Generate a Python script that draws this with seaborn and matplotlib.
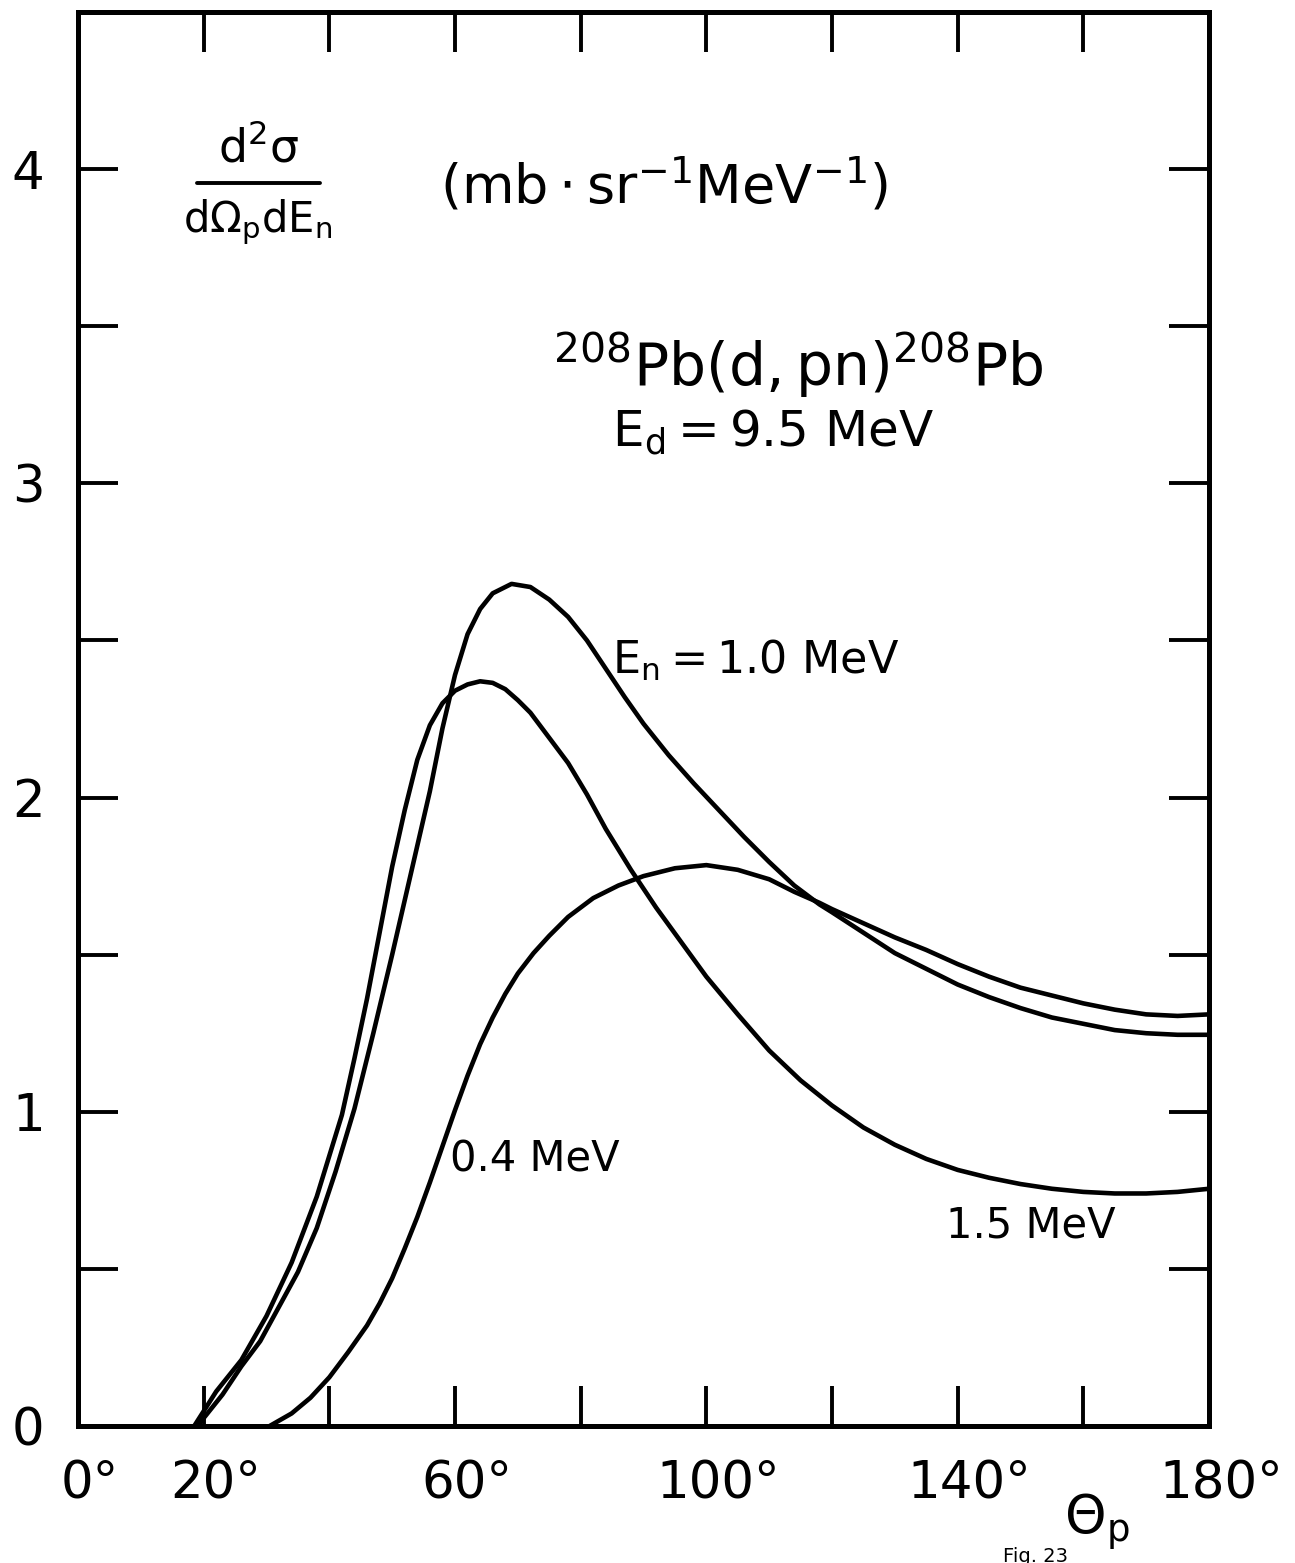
import numpy as np
import pandas as pd
import matplotlib
matplotlib.use("Agg")
import matplotlib.pyplot as plt
import matplotlib.transforms as mtransforms
from matplotlib.lines import Line2D
import seaborn as sns

# ---------------- data ----------------
theta_15 = [18.5, 22, 26, 30, 34, 38, 42, 44, 46, 48, 50, 52, 54, 56, 58, 60, 62, 64, 66, 68,
            70, 72, 75, 78, 81, 84, 88, 92, 96, 100, 105, 110, 115, 120, 125, 130, 135, 140,
            145, 150, 155, 160, 165, 170, 175, 180]
sigma_15 = [0.0, 0.11, 0.21, 0.35, 0.52, 0.73, 0.99, 1.17, 1.36, 1.57, 1.78, 1.96, 2.12, 2.23,
            2.30, 2.34, 2.36, 2.37, 2.365, 2.345, 2.31, 2.27, 2.19, 2.11, 2.01, 1.90, 1.77,
            1.65, 1.54, 1.43, 1.31, 1.195, 1.10, 1.02, 0.95, 0.895, 0.85, 0.815, 0.79, 0.77,
            0.755, 0.745, 0.74, 0.74, 0.745, 0.755]

theta_10 = [19, 23, 26, 29, 32, 35, 38, 41, 44, 47, 50, 53, 56, 58, 60, 62, 64, 66, 69, 72,
            75, 78, 81, 84, 87, 90, 94, 98, 102, 106, 110, 114, 118, 120, 125, 130, 135, 140,
            145, 150, 155, 160, 165, 170, 175, 180]
sigma_10 = [0.0, 0.10, 0.19, 0.27, 0.38, 0.49, 0.63, 0.81, 1.01, 1.25, 1.50, 1.76, 2.02, 2.22,
            2.39, 2.52, 2.60, 2.65, 2.68, 2.67, 2.63, 2.575, 2.50, 2.41, 2.32, 2.235, 2.135,
            2.045, 1.96, 1.875, 1.795, 1.72, 1.66, 1.635, 1.57, 1.505, 1.455, 1.405, 1.365,
            1.33, 1.30, 1.28, 1.26, 1.25, 1.245, 1.245]

theta_04 = [30.5, 34, 37, 40, 43, 46, 48, 50, 52, 54, 56, 58, 60, 62, 64, 66, 68, 70, 72.5,
            75, 78, 82, 86, 90, 95, 100, 105, 110, 114, 118, 120, 125, 130, 135, 140, 145,
            150, 155, 160, 165, 170, 175, 180]
sigma_04 = [0.0, 0.04, 0.09, 0.155, 0.235, 0.32, 0.39, 0.47, 0.565, 0.665, 0.775, 0.89, 1.005,
            1.115, 1.215, 1.30, 1.375, 1.44, 1.505, 1.56, 1.62, 1.68, 1.72, 1.75, 1.775,
            1.785, 1.77, 1.74, 1.70, 1.665, 1.645, 1.60, 1.555, 1.515, 1.47, 1.43, 1.395,
            1.37, 1.345, 1.325, 1.31, 1.305, 1.31]

curve_names = ["1.5 MeV", "1.0 MeV", "0.4 MeV"]

x_tick_values = [0, 20, 40, 60, 80, 100, 120, 140, 160, 180]
x_tick_labels = ["0°", "20°", "", "60°", "", "100°", "", "140°", "", "180°"]
y_tick_values = [0, 0.5, 1, 1.5, 2, 2.5, 3, 3.5, 4]
y_tick_labels = ["0", "", "1", "", "2", "", "3", "", "4"]

df = pd.concat([
    pd.DataFrame({"theta": theta_15, "sigma": sigma_15, "En": curve_names[0]}),
    pd.DataFrame({"theta": theta_10, "sigma": sigma_10, "En": curve_names[1]}),
    pd.DataFrame({"theta": theta_04, "sigma": sigma_04, "En": curve_names[2]}),
], ignore_index=True)

# ---------------- style ----------------
sns.set_theme(style="white")
plt.rcParams["font.family"] = ["DejaVu Sans"]
plt.rcParams["mathtext.fontset"] = "dejavusans"

W, H = 1295, 1563
fig = plt.figure(figsize=(W / 100, H / 100), dpi=100)
fig.patch.set_facecolor("white")
ax = fig.add_axes([78 / W, 1 - 1426 / H, (1209 - 78) / W, (1426 - 12) / H])
ax.set_facecolor("white")

sns.lineplot(data=df, x="theta", y="sigma", hue="En", units="En", estimator=None,
             palette={n: "black" for n in curve_names}, linewidth=3.3,
             legend=False, ax=ax)
for ln in ax.get_lines():
    ln.set_solid_joinstyle("round")
    ln.set_solid_capstyle("round")

ax.set_xlim(0, 180)
ax.set_ylim(0, 4.5)
ax.set_xlabel("")
ax.set_ylabel("")

for s in ax.spines.values():
    s.set_visible(True)
    s.set_color("black")
    s.set_linewidth(3.6)

ax.set_xticks(x_tick_values)
ax.set_xticklabels(x_tick_labels)
ax.set_yticks(y_tick_values)
ax.set_yticklabels(y_tick_labels)
ax.tick_params(axis="both", which="major", direction="in", length=29, width=2.8,
               color="black", labelsize=37, labelcolor="black", pad=24,
               top=True, right=True, bottom=True, left=True)
ax.tick_params(axis="y", pad=24)

offset = mtransforms.ScaledTranslation(12 / 100, 0, fig.dpi_scale_trans)
for lbl in ax.get_xticklabels():
    lbl.set_transform(lbl.get_transform() + offset)

# ---------------- annotations ----------------
def ftxt(px, py, s, size, ha="left", va="center"):
    fig.text(px / W, 1 - py / H, s, fontsize=size, ha=ha, va=va, color="black")

ftxt(258, 148, r"$\mathregular{d^2\sigma}$", 33, ha="center")
fig.add_artist(Line2D([197 / W, 320 / W], [1 - 183 / H, 1 - 183 / H],
                      color="black", linewidth=2.8))
ftxt(258, 222, r"$\mathregular{d\Omega_p dE_n}$", 30, ha="center")
ftxt(440, 186, r"$\mathregular{(mb\cdot sr^{-1} MeV^{-1})}$", 39)

ftxt(553, 365, r"$\mathregular{^{208}Pb(d,pn)^{208}Pb}$", 42)
ftxt(612, 432, r"$\mathregular{E_d = 9.5\ MeV}$", 36)
ftxt(612, 660, r"$\mathregular{E_n = 1.0\ MeV}$", 32)
ftxt(450, 1160, "0.4 MeV", 30)
ftxt(946, 1225, "1.5 MeV", 30)
ftxt(1064, 1522, r"$\mathregular{\Theta_p}$", 38)
ftxt(1003, 1556, "Fig. 23", 14)

fig.savefig("out.png", dpi=100, facecolor="white")
